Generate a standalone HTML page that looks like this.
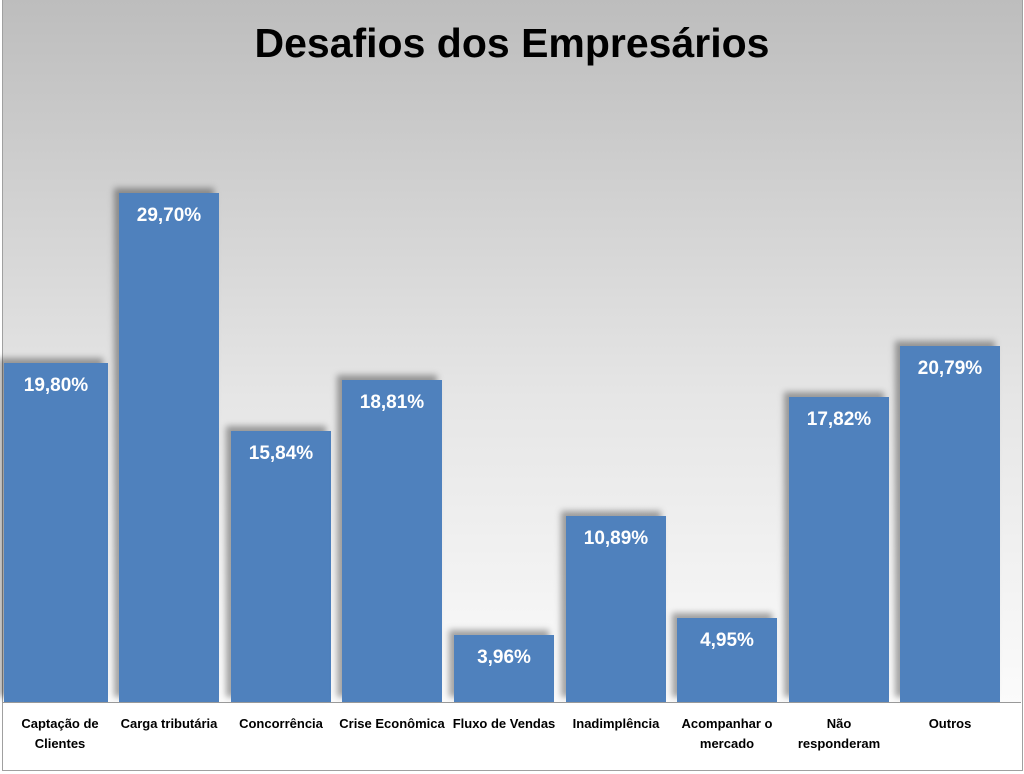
<!DOCTYPE html>
<html><head><meta charset="utf-8"><style>
body{margin:0;width:1024px;height:774px;background:#fff;font-family:"Liberation Sans",sans-serif;overflow:hidden}
#c{position:absolute;left:2px;top:0;width:1019px;height:770px;border:1px solid #a0a0a0;border-top:none;background:linear-gradient(#bdbdbd 0px,#e6e6e6 400px,#fbfbfb 702px,#fff 703px)}
.t{position:absolute;top:20px;left:0;width:1024px;text-align:center;font-weight:bold;font-size:41px;color:#000}
.b{position:absolute;background:#4f81bd;box-shadow:-5px -5px 6px rgba(0,0,0,0.35);color:#fff;font-weight:bold;font-size:19px;text-align:center;padding-top:12px;box-sizing:border-box}
.l{position:absolute;top:714px;width:120px;text-align:center;font-weight:bold;font-size:13px;line-height:20px;color:#000}
#ax{position:absolute;left:3px;top:702px;width:1018px;height:1px;background:#999}
</style></head><body>
<div id="c"></div>
<div class="t">Desafios dos Empresários</div>
<div class="b" style="left:4px;width:104px;top:363px;height:339px">19,80%</div>
<div class="b" style="left:119px;width:100px;top:193px;height:509px">29,70%</div>
<div class="b" style="left:231px;width:100px;top:431px;height:271px">15,84%</div>
<div class="b" style="left:342px;width:100px;top:380px;height:322px">18,81%</div>
<div class="b" style="left:454px;width:100px;top:635px;height:67px">3,96%</div>
<div class="b" style="left:566px;width:100px;top:516px;height:186px">10,89%</div>
<div class="b" style="left:677px;width:100px;top:618px;height:84px">4,95%</div>
<div class="b" style="left:789px;width:100px;top:397px;height:305px">17,82%</div>
<div class="b" style="left:900px;width:100px;top:346px;height:356px">20,79%</div>
<div id="ax"></div>
<div class="l" style="left:0px">Captação de<br>Clientes</div>
<div class="l" style="left:109px">Carga tributária</div>
<div class="l" style="left:221px">Concorrência</div>
<div class="l" style="left:332px">Crise Econômica</div>
<div class="l" style="left:444px">Fluxo de Vendas</div>
<div class="l" style="left:556px">Inadimplência</div>
<div class="l" style="left:667px">Acompanhar o<br>mercado</div>
<div class="l" style="left:779px">Não<br>responderam</div>
<div class="l" style="left:890px">Outros</div>
</body></html>
